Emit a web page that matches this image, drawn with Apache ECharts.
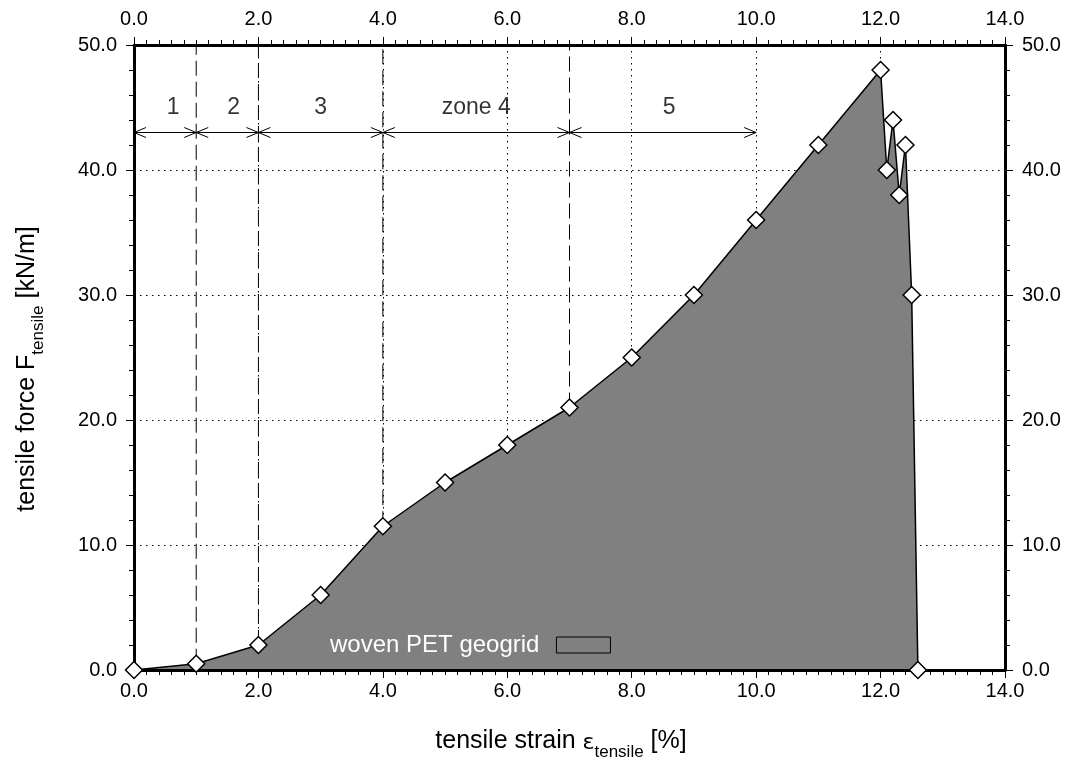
<!DOCTYPE html>
<html><head><meta charset="utf-8">
<script src="https://cdn.jsdelivr.net/npm/echarts@6/dist/echarts.min.js"></script>
<style>html,body{margin:0;padding:0;background:#fff}#c{width:1075px;height:769px}</style>
</head><body><div id="c"></div>
<script>
// ---- data ----
const strain = [0, 1, 2, 3, 4, 5, 6, 7, 8, 9, 10, 11, 12, 12.1, 12.2, 12.3, 12.4, 12.5, 12.6];
const force  = [0, 0.5, 2, 6, 11.5, 15, 18, 21, 25, 30, 36, 42, 48, 40, 44, 38, 42, 30, 0];
const zoneBounds = [0, 1, 2, 4, 7, 10];
const zoneLineX = [1, 2, 4, 7];
const zoneLabels = ['1', '2', '3', 'zone 4', '5'];
const zoneLabelX = [0.63, 1.6, 3.0, 5.5, 8.6];
const arrowY = 43;
const labelY = 45;
const seriesName = 'woven PET geogrid';
const xRange = [0, 14];
const yRange = [0, 50];

const FONT = 'Liberation Sans';
const fmt = v => v.toFixed(1);
const pts = strain.map((x, i) => [x, force[i]]);

const chart = echarts.init(document.getElementById('c'), null, {renderer: 'canvas'});

function axisCommon(isX, showLabels) {
  return {
    min: isX ? xRange[0] : yRange[0],
    max: isX ? xRange[1] : yRange[1],
    interval: isX ? 2 : 10,
    type: 'value',
    axisLine: {show: true, onZero: false, lineStyle: {color: '#000', width: 3}},
    axisTick: {show: true, inside: false, length: 8, lineStyle: {color: '#000', width: 1}},
    minorTick: {show: true, splitNumber: isX ? 10 : 5, length: 5, lineStyle: {color: '#000', width: 1}},
    axisLabel: {show: showLabels, formatter: fmt, color: '#000', fontFamily: FONT, fontSize: 20},
    splitLine: {show: false}
  };
}

const xBottom = Object.assign(axisCommon(true, true), {position: 'bottom', z: 10});
xBottom.axisLabel.margin = 11;
const xTop = Object.assign(axisCommon(true, true), {position: 'top', z: 0});
xTop.axisLabel.margin = 16;
xTop.splitLine = {show: true, showMinLine: false, showMaxLine: false, lineStyle: {color: '#000', width: 1, type: [1.5, 4.5]}};
const yLeft = Object.assign(axisCommon(false, true), {position: 'left', z: 10});
yLeft.axisLabel.margin = 17;
const yRight = Object.assign(axisCommon(false, true), {position: 'right', z: 0});
yRight.axisLabel.margin = 17;
yRight.splitLine = {show: true, showMinLine: false, showMaxLine: false, lineStyle: {color: '#000', width: 1, type: [1.5, 4.5]}};

const series = [];
// filled area
series.push({
  name: seriesName, type: 'line', data: pts, z: 1, symbol: 'none',
  lineStyle: {width: 0}, areaStyle: {color: '#808080', opacity: 1},
  itemStyle: {color: '#808080'}, silent: true, animation: false
});
// zone boundary dashed lines
zoneLineX.forEach(x => {
  const yb = force[strain.indexOf(x)];
  series.push({
    type: 'line', data: [[x, yb], [x, yRange[1]]], z: 5, symbol: 'none', silent: true,
    lineStyle: {color: '#000', width: 1, type: [15, 6]}, animation: false
  });
});
// arrows
series.push({
  type: 'custom', z: 6, silent: true, animation: false,
  data: zoneBounds.slice(0, -1).map((x, i) => [x, zoneBounds[i + 1], arrowY]),
  encode: {x: [0, 1], y: 2},
  renderItem: function (params, api) {
    const a = api.coord([api.value(0), api.value(2)]);
    const b = api.coord([api.value(1), api.value(2)]);
    const h = 12, w = 5;
    const st = {stroke: '#000', lineWidth: 1, fill: null};
    return {type: 'group', children: [
      {type: 'line', shape: {x1: a[0], y1: a[1], x2: b[0], y2: b[1]}, style: st},
      {type: 'polyline', shape: {points: [[a[0] + h, a[1] - w], [a[0], a[1]], [a[0] + h, a[1] + w]]}, style: st},
      {type: 'polyline', shape: {points: [[b[0] - h, b[1] - w], [b[0], b[1]], [b[0] - h, b[1] + w]]}, style: st}
    ]};
  }
});
// zone labels
series.push({
  type: 'scatter', z: 6, silent: true, animation: false,
  data: zoneLabelX.map((x, i) => ({value: [x, labelY], name: zoneLabels[i]})),
  symbolSize: 1, itemStyle: {color: 'rgba(0,0,0,0)'},
  label: {show: true, position: 'inside', formatter: p => p.name, color: '#000', fontFamily: FONT, fontSize: 23}
});
// curve + markers
series.push({
  type: 'line', data: pts, z: 20, symbol: 'diamond', symbolSize: 17, clip: false,
  lineStyle: {color: '#000', width: 1.5},
  itemStyle: {color: '#fff', borderColor: '#000', borderWidth: 1.5},
  silent: true, animation: false
});

const sub = {
  m: {fontFamily: FONT, fontSize: 25, color: '#000', verticalAlign: 'bottom', padding: [0, 0, 7, 0]},
  s: {fontFamily: FONT, fontSize: 17, color: '#000', verticalAlign: 'bottom'},
  e: {fontFamily: 'DejaVu Sans', fontSize: 22, color: '#000', verticalAlign: 'bottom', padding: [0, 0, 7, 0]}
};

chart.setOption({
  backgroundColor: '#fff',
  animation: false,
  grid: {left: 134, right: 70, top: 45, bottom: 99, containLabel: false},
  xAxis: [xBottom, xTop],
  yAxis: [yLeft, yRight],
  legend: {
    left: 330, top: 633, padding: 0, orient: 'horizontal', align: 'right',
    itemWidth: 54, itemHeight: 16,
    textStyle: {color: '#fff', fontFamily: FONT, fontSize: 24, padding: [0, 12, 0, 0]},
    data: [{name: seriesName, icon: 'rect', itemStyle: {color: '#808080', borderColor: '#000', borderWidth: 1}}],
    selectedMode: false
  },
  graphic: [
    {type: 'text', x: 561, y: 745, z: 50,
      style: {text: '{m|tensile strain }{e|ε}{s|tensile}{m| [%]}', rich: sub, align: 'center', verticalAlign: 'middle'}},
    {type: 'text', x: 31, y: 369, rotation: Math.PI / 2, z: 50,
      style: {text: '{m|tensile force F}{s|tensile}{m| [kN/m]}', rich: sub, align: 'center', verticalAlign: 'middle'}}
  ],
  series: series
});
</script></body></html>
